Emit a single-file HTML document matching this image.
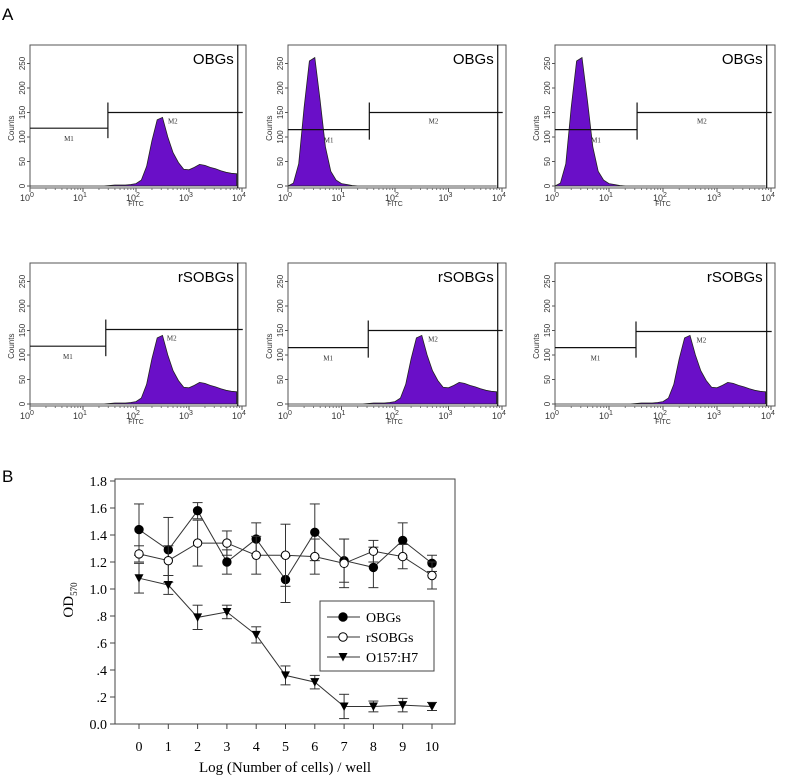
<!DOCTYPE html>
<html><head><meta charset="utf-8"><style>
body{margin:0;background:#fff;}
svg{display:block;font-family:"Liberation Sans",sans-serif;}
</style></head><body>
<svg id="fig" width="787" height="778" viewBox="0 0 787 778">
<text x="2" y="20" font-size="17">A</text>
<text x="2" y="482" font-size="17">B</text>
<g id="hists"></g>
<g id="chartB"></g>
</svg>
<script>
// ---------- Panel A data ----------
const histLogX = [0,0.1,0.2,0.3,0.4,0.5,0.6,0.7,0.8,0.9,1.0,1.1,1.2,1.3,1.4,1.5,1.6,1.7,1.8,1.9,2.0,2.1,2.2,2.3,2.4,2.5,2.6,2.7,2.8,2.9,3.0,3.1,3.2,3.3,3.4,3.5,3.6,3.7,3.8,3.9];
const shapeBroad = [0,0,0,0,0,0,0,0,0,0,0,0,0,0,0,1,2,2,2,3,5,12,40,92,135,140,100,68,48,34,33,38,44,42,38,35,31,28,26,25];
const shapeNarrow = [0,6,45,160,255,262,175,80,30,12,5,3,1,0,0,0,0,0,0,0,0,0,0,0,0,0,0,0,0,0,0,0,0,0,0,0,0,0,0,0];
const histYTicks = [0,50,100,150,200,250];
const histXTicks = ["0","1","2","3","4"];
const panels = [
 {label:"OBGs", shape:shapeBroad, m1:118, m2:150, split:1.47, x0:30,x1:246,y0:45,y1:188},
 {label:"OBGs", shape:shapeNarrow, m1:115, m2:150, split:1.52, x0:288,x1:506,y0:45,y1:188},
 {label:"OBGs", shape:shapeNarrow, m1:115, m2:150, split:1.52, x0:555,x1:775,y0:45,y1:188},
 {label:"rSOBGs", shape:shapeBroad, m1:118, m2:152, split:1.43, x0:30,x1:246,y0:263,y1:406},
 {label:"rSOBGs", shape:shapeBroad, m1:115, m2:150, split:1.5, x0:288,x1:506,y0:263,y1:406},
 {label:"rSOBGs", shape:shapeBroad, m1:115, m2:148, split:1.5, x0:555,x1:775,y0:263,y1:406}
];
// ---------- Panel B data ----------
const xCats = [0,1,2,3,4,5,6,7,8,9,10];
const obgs = [1.44,1.29,1.58,1.20,1.37,1.07,1.42,1.21,1.16,1.36,1.19];
const obgsErr = [0.19,0.24,0.06,0.09,0.12,0.17,0.21,0.16,0.15,0.13,0.06];
const rsobgs = [1.26,1.21,1.34,1.34,1.25,1.25,1.24,1.19,1.28,1.24,1.10];
const rsobgsErr = [0.06,0.11,0.17,0.09,0.14,0.23,0.13,0.18,0.08,0.09,0.10];
const o157 = [1.08,1.03,0.79,0.83,0.66,0.36,0.31,0.13,0.13,0.14,0.13];
const o157Err = [0.11,0.07,0.09,0.05,0.06,0.07,0.05,0.09,0.04,0.05,0.03];
const yTickVals = [0,0.2,0.4,0.6,0.8,1.0,1.2,1.4,1.6,1.8];
const yTickLabels = ["0.0",".2",".4",".6",".8","1.0","1.2","1.4","1.6","1.8"];

const NS="http://www.w3.org/2000/svg";
function mk(tag,attrs,parent,txt){const e=document.createElementNS(NS,tag);for(const k in attrs)e.setAttribute(k,attrs[k]);if(txt!==undefined)e.textContent=txt;parent.appendChild(e);return e;}

const hg=document.getElementById('hists');
panels.forEach((p,i)=>{
  const g=mk('g',{},hg);
  
  
  const xs=v=>p.x0+(v/4)*(p.x1-p.x0-4);
  const ys=c=>p.y1-2-c*0.49;
  const fr=mk('rect',{x:p.x0,y:p.y0,width:p.x1-p.x0,height:p.y1-p.y0,fill:'none',stroke:'#555','stroke-width':1},g);
  
  
  let d='M'+xs(histLogX[0])+','+ys(0);
  p.shape.forEach((c,j)=>{d+=' L'+xs(histLogX[j]).toFixed(1)+','+ys(c).toFixed(1);});
  d+=' L'+xs(histLogX[histLogX.length-1])+','+ys(0)+' Z';
  const hp=mk('path',{d:d,fill:'#6a0fc8',stroke:'#222','stroke-width':0.8},g);
  
  
  histYTicks.forEach(t=>{
    mk('line',{x1:p.x0-3,x2:p.x0,y1:ys(t),y2:ys(t),stroke:'#555'},g);
    const tl=mk('text',{x:0,y:0,transform:`translate(${p.x0-5},${ys(t)}) rotate(-90)`,'font-size':8,'text-anchor':'middle',fill:'#333'},g,t);
    
    
  });
  const yl=mk('text',{transform:`translate(${p.x0-16},${ys(118)}) rotate(-90)`,'font-size':8,'text-anchor':'middle',fill:'#333'},g,'Counts');
  
  
  histXTicks.forEach((t,k)=>{
    const x=xs(k);
    mk('line',{x1:x,x2:x,y1:p.y1,y2:p.y1+4,stroke:'#555'},g);
    for(let m=2;m<10&&k<4;m++){const xm=xs(k+Math.log10(m));mk('line',{x1:xm,x2:xm,y1:p.y1,y2:p.y1+2,stroke:'#777'},g);}
    const tl=mk('text',{x:x-3,y:p.y1+13,'font-size':9,'text-anchor':'middle',fill:'#333'},g);
    
    
    mk('tspan',{},tl,'10');
    mk('tspan',{dy:-4,'font-size':7},tl,t);
  });
  const xl=mk('text',{x:xs(2),y:p.y1+18,'font-size':7,'text-anchor':'middle',fill:'#333'},g,'FITC');
  
  
  const sx=xs(p.split), ex=xs(3.92);
  mk('line',{x1:p.x0,x2:sx,y1:ys(p.m1),y2:ys(p.m1),stroke:'#111','stroke-width':1.2},g);
  mk('line',{x1:sx,x2:sx,y1:ys(p.m2)-10,y2:ys(p.m1)+10,stroke:'#111','stroke-width':1.2},g);
  mk('line',{x1:sx,x2:ex+5,y1:ys(p.m2),y2:ys(p.m2),stroke:'#111','stroke-width':1.2},g);
  mk('line',{x1:ex,x2:ex,y1:p.y0,y2:p.y1,stroke:'#111','stroke-width':1.2},g);
  const m1=mk('text',{x:(p.x0+sx)/2,y:ys(p.m1)+13,'font-size':7,'font-family':'Liberation Serif','text-anchor':'middle',fill:'#333'},g,'M1');
  
  
  const m2=mk('text',{x:(sx+ex)/2,y:ys(p.m2)+11,'font-size':7,'font-family':'Liberation Serif','text-anchor':'middle',fill:'#333'},g,'M2');
  
  
  const lb=mk('text',{x:ex-4,y:p.y0+19,'font-size':15,'text-anchor':'end',fill:'#000'},g,p.label);
  
  
});

// ---------- Panel B ----------
const cb=document.getElementById('chartB');
const L=115,R=455,T=479,B=724;
const X=v=>139+v*29.3;
const Y=v=>B-(v/1.8)*(B-481);
const frame=mk('rect',{x:L,y:T,width:R-L,height:B-T,fill:'none',stroke:'#444','stroke-width':1},cb);


yTickVals.forEach((v,i)=>{
  mk('line',{x1:L-5,x2:L,y1:Y(v),y2:Y(v),stroke:'#444'},cb);
  const t=mk('text',{x:L-8,y:Y(v)+5,'font-size':14,'font-family':'Liberation Serif','text-anchor':'end'},cb,yTickLabels[i]);
  
  
});
xCats.forEach(c=>{
  mk('line',{x1:X(c),x2:X(c),y1:B,y2:B+5,stroke:'#444'},cb);
  const t=mk('text',{x:X(c),y:B+27,'font-size':14,'font-family':'Liberation Serif','text-anchor':'middle'},cb,c);
  
  
});
const xt=mk('text',{x:285,y:772,'font-size':15,'font-family':'Liberation Serif','text-anchor':'middle'},cb,'Log (Number of cells) / well');


const yt=mk('text',{transform:'translate(73,600) rotate(-90)','font-size':15,'font-family':'Liberation Serif','text-anchor':'middle'},cb);


mk('tspan',{},yt,'OD');
mk('tspan',{dy:4,'font-size':9},yt,'570');

function marker(g,x,y,type){
  if(type==='tri') return mk('path',{d:`M${x-4.5},${y-4} L${x+4.5},${y-4} L${x},${y+4.5} Z`,fill:'#000'},g);
  return mk('circle',{cx:x,cy:y,r:4.2,fill:type==='filled'?'#000':'#fff',stroke:'#000','stroke-width':1},g);
}
const series=[
 {name:'OBGs',vals:obgs,err:obgsErr,type:'filled'},
 {name:'rSOBGs',vals:rsobgs,err:rsobgsErr,type:'open'},
 {name:'O157:H7',vals:o157,err:o157Err,type:'tri'}
];
series.forEach(s=>{
  const g=mk('g',{},cb);
  
  
  s.vals.forEach((v,i)=>{
    const x=X(xCats[i]);
    mk('line',{x1:x,x2:x,y1:Y(v-s.err[i]),y2:Y(v+s.err[i]),stroke:'#333'},g);
    mk('line',{x1:x-5,x2:x+5,y1:Y(v-s.err[i]),y2:Y(v-s.err[i]),stroke:'#333'},g);
    mk('line',{x1:x-5,x2:x+5,y1:Y(v+s.err[i]),y2:Y(v+s.err[i]),stroke:'#333'},g);
  });
  const pts=s.vals.map((v,i)=>X(xCats[i]).toFixed(1)+','+Y(v).toFixed(1)).join(' ');
  const pl=mk('polyline',{points:pts,fill:'none',stroke:'#333','stroke-width':1},g);
  
  
  s.vals.forEach((v,i)=>{
    const m=marker(g,X(xCats[i]),Y(v),s.type);
    
    
  });
});
const lg=mk('g',{},cb);


mk('rect',{x:320,y:601,width:114,height:70,fill:'#fff',stroke:'#444'},lg);
series.forEach((s,i)=>{
  const y=617+i*20;
  const e=mk('g',{},lg);
  
  
  mk('line',{x1:327,x2:360,y1:y,y2:y,stroke:'#333'},e);
  marker(e,343,y,s.type);
  mk('text',{x:366,y:y+5,'font-size':14,'font-family':'Liberation Serif'},e,s.name);
});
</script>
</body></html>
